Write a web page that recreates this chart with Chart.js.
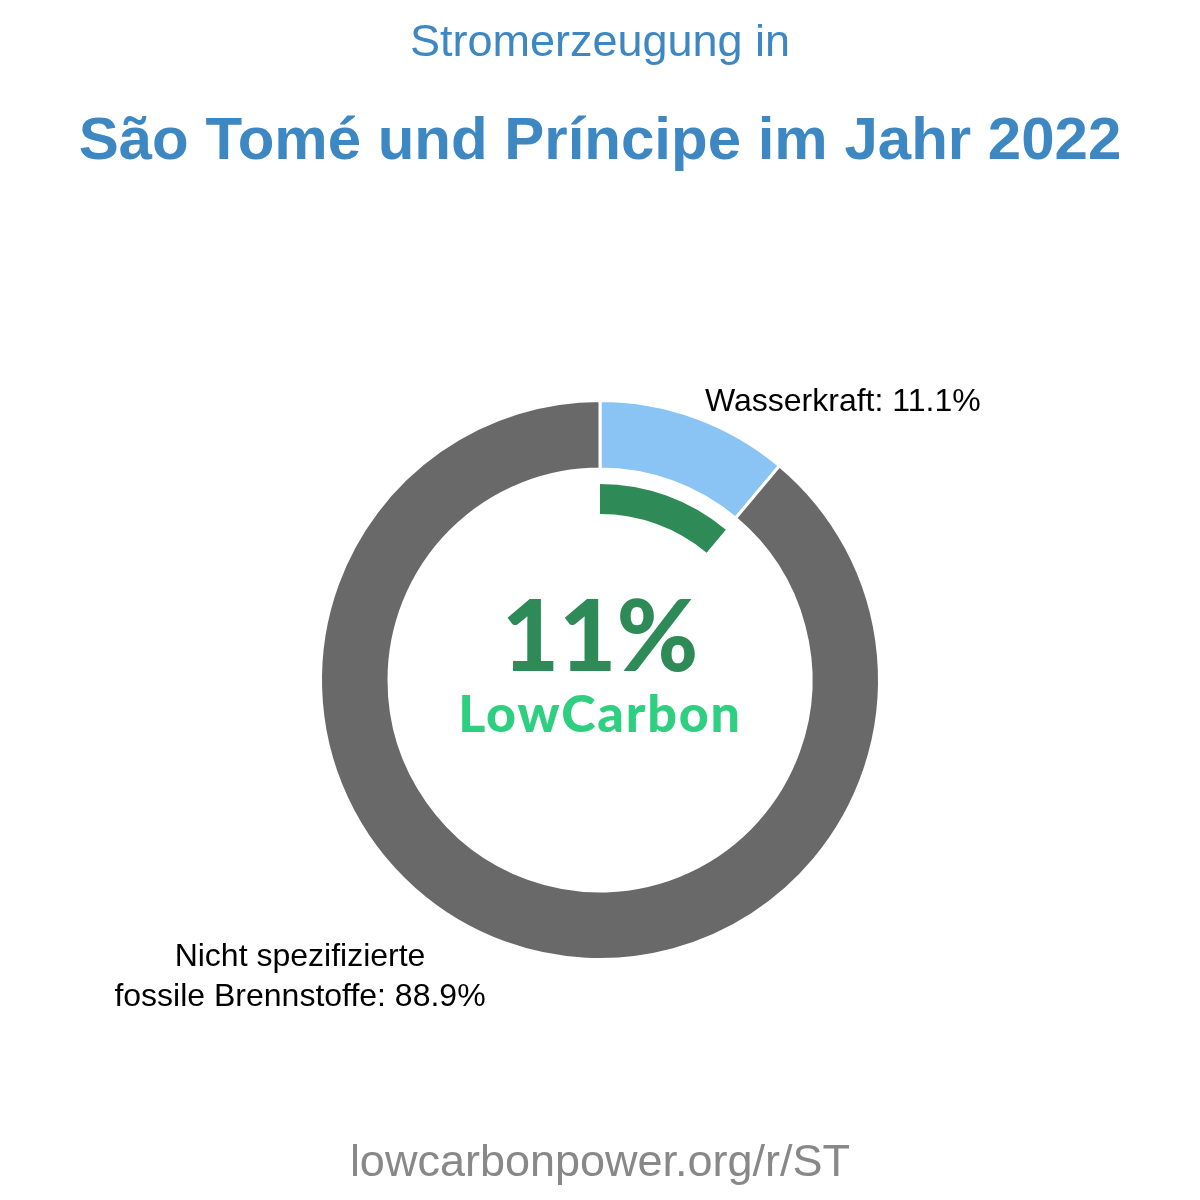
<!DOCTYPE html>
<html>
<head>
<meta charset="utf-8">
<script src="https://cdn.jsdelivr.net/npm/chart.js@4/dist/chart.umd.min.js"></script>
<style>
  html, body { margin:0; padding:0; background:#fff; }
  #wrap { position:relative; width:1200px; height:1200px; overflow:hidden; }
  canvas { position:absolute; left:0; top:0; }
  .t { position:absolute; white-space:nowrap; line-height:1; font-family:"Liberation Sans", Arial, sans-serif; }
  .c { left:0; width:1200px; text-align:center; }
</style>
</head>
<body>
<div id="wrap">
  <canvas id="chart" width="1200" height="1200"></canvas>
  <div class="t c" id="t1" style="top:18px;font-size:45px;color:#3d87c3;">Stromerzeugung in</div>
  <div class="t c" id="t2" style="top:109px;font-size:60px;font-weight:bold;color:#3d87c3;">São Tomé und Príncipe im Jahr 2022</div>
  <div class="t" id="lab0" style="left:705px;top:384px;font-size:32px;color:#000;"></div>
  <div class="t" id="lab1" style="left:100px;width:400px;top:935px;font-size:32px;color:#000;text-align:center;line-height:40px;white-space:normal;"></div>
  <div class="t c" id="big" style="top:583px;font-size:99px;font-weight:900;color:#2e8b57;font-family:Lato, sans-serif;"></div>
  <div class="t c" id="lc" style="top:686px;font-size:52px;font-weight:900;color:#2ecf80;font-family:Lato, sans-serif;letter-spacing:1.8px;">LowCarbon</div>
  <div class="t c" id="foot" style="top:1138px;font-size:45px;color:#888;">lowcarbonpower.org/r/ST</div>
</div>
<script>
const categories = ["Wasserkraft", "Nicht spezifizierte fossile Brennstoffe"];
const shares = [11.1, 88.9];
const colors = ["#89c4f4", "#696969"];
const lowCarbonShare = [11.1, 88.9];
const lowCarbonLabel = "11%";

document.getElementById('lab0').textContent = categories[0] + ": " + shares[0].toFixed(1) + "%";
document.getElementById('lab1').innerHTML = "Nicht spezifizierte<br>fossile Brennstoffe: " + shares[1].toFixed(1) + "%";
document.getElementById('big').textContent = lowCarbonLabel;

new Chart(document.getElementById('chart'), {
  type: 'doughnut',
  data: {
    labels: categories,
    datasets: [
      { data: shares, backgroundColor: colors, borderColor: '#ffffff', borderWidth: 3, weight: 68.5 },
      { data: [1], backgroundColor: ['rgba(0,0,0,0)'], borderWidth: 0, weight: 15 },
      { data: lowCarbonShare, backgroundColor: ['#2e8b57', 'rgba(0,0,0,0)'], borderWidth: 0, weight: 30 }
    ]
  },
  options: {
    responsive: false,
    animation: false,
    events: [],
    radius: 279.5,
    cutout: '59.39%',
    layout: { padding: { top: 160, bottom: 0, left: 0, right: 0 } },
    plugins: { legend: { display: false }, tooltip: { enabled: false }, title: { display: false } }
  }
});
</script>
</body>
</html>
